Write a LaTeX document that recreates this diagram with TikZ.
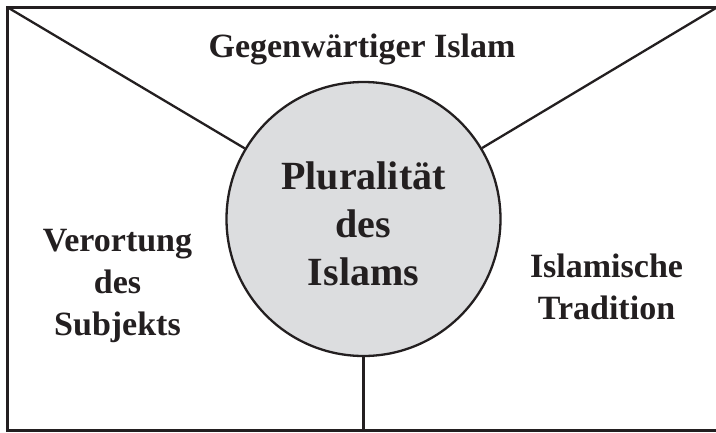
\documentclass[tikz,border=0pt]{standalone}
\usepackage{fontspec}
\setmainfont{Liberation Serif}
\usetikzlibrary{positioning, calc}

\definecolor{hubgray}{RGB}{220,221,223}
\definecolor{ink}{RGB}{35,31,32}

\begin{document}
\begin{tikzpicture}[x=1pt, y=-1pt,
    frame/.style={line width=3pt, ink},
    spoke/.style={line width=2.3pt, ink},
    hub/.style={circle, draw=ink, line width=2.3pt, fill=hubgray, minimum size=274pt, inner sep=0pt, align=center, text=ink, font=\bfseries\fontsize{40}{48}\selectfont},
    field/.style={align=center, inner sep=0pt, text=ink, font=\bfseries\fontsize{34}{42}\selectfont}]

    \useasboundingbox (0,0) rectangle (716,432);

    % Frame (right side runs off the page)
    \coordinate (tl) at (7,7);
    \coordinate (tr) at (716,8);
    \coordinate (bl) at (7,430);
    \coordinate (bm) at (363.5,430);
    \draw[frame] (716,7) -- (tl) -- (bl) -- (716,430);

    % Centre
    \node[hub] (plural) at (363.5,219) {\rule{0pt}{38pt}Pluralität\\des\\Islams};

    % Spokes
    \draw[spoke] (tl) -- (plural);
    \draw[spoke] (tr) -- (plural);
    \draw[spoke] (plural) -- (bm);

    % Fields
    \node[field, anchor=base] (gegenwart) at (362,57) {Gegenwärtiger Islam};
    \node[field] (verortung) at (117.5,286) {Verortung\\des\\Subjekts};
    \node[field] (tradition) at (606.5,286.5) {Islamische\\Tradition};

\end{tikzpicture}
\end{document}
